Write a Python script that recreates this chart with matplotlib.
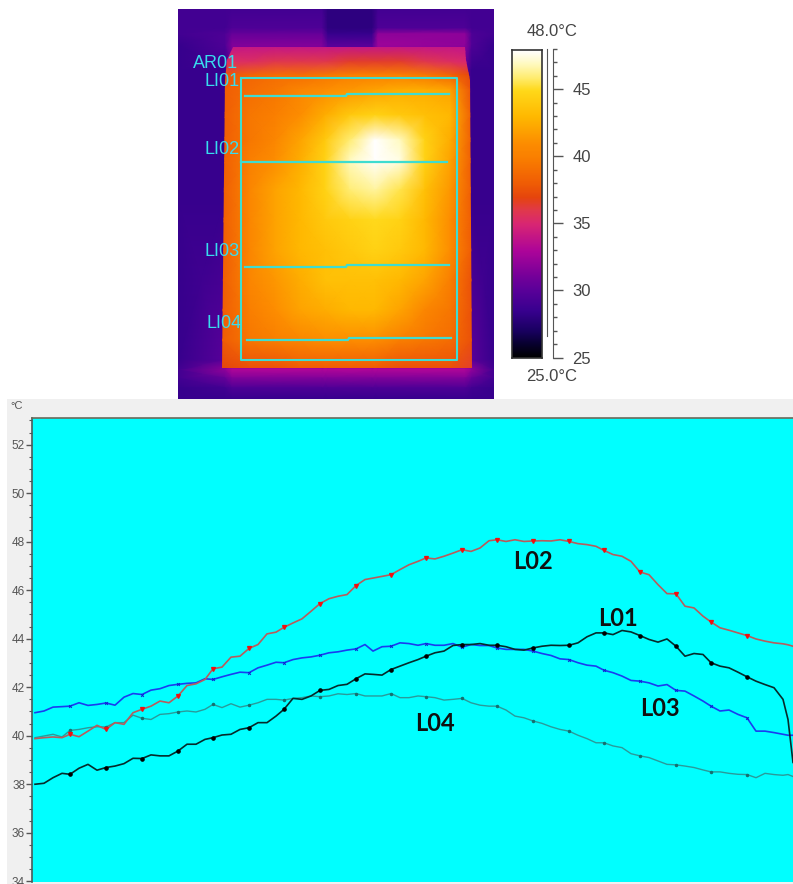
import matplotlib
matplotlib.use('Agg')
import matplotlib.pyplot as plt
import numpy as np
from matplotlib.colors import LinearSegmentedColormap, Normalize
from matplotlib.patches import Polygon, Rectangle

W, H = 793, 884

# perfil das linhas: posicao ao longo da linha e temperatura (graus C)
posicao = [35, 44, 53, 62, 70, 79, 88, 97, 106, 115, 124, 133, 142, 151, 160, 169, 178, 187, 196, 205,
           213, 222, 231, 240, 249, 258, 267, 276, 284, 293, 302, 311, 320, 329, 338, 347, 356, 365, 373, 382,
           391, 400, 409, 418, 426, 435, 444, 453, 462, 471, 480, 489, 497, 506, 515, 524, 533, 542, 551, 560,
           569, 578, 587, 596, 604, 613, 622, 631, 640, 649, 658, 667, 676, 685, 694, 703, 711, 720, 729, 738,
           747, 756, 765, 774, 783, 788, 793]
l01 = [38.0, 38.04, 38.27, 38.45, 38.41, 38.66, 38.82, 38.58, 38.69, 38.75, 38.85, 39.07, 39.06, 39.21, 39.17, 39.17, 39.37, 39.65, 39.65, 39.85,
       39.92, 40.03, 40.06, 40.26, 40.33, 40.54, 40.54, 40.81, 41.09, 41.54, 41.5, 41.64, 41.87, 41.91, 42.07, 42.12, 42.35, 42.55, 42.53, 42.5,
       42.73, 42.87, 43.01, 43.14, 43.28, 43.42, 43.49, 43.72, 43.76, 43.76, 43.8, 43.73, 43.73, 43.67, 43.56, 43.53, 43.62, 43.69, 43.73, 43.72,
       43.73, 43.83, 44.08, 44.24, 44.24, 44.17, 44.34, 44.28, 44.13, 43.97, 43.86, 43.99, 43.69, 43.28, 43.39, 43.35, 43.01, 42.87, 42.8, 42.62,
       42.43, 42.25, 42.11, 41.98, 41.5, 40.67, 38.9]
l02 = [39.88, 39.92, 39.95, 39.92, 40.06, 39.96, 40.19, 40.43, 40.26, 40.54, 40.47, 40.95, 41.09, 41.22, 41.43, 41.36, 41.64, 42.07, 42.14, 42.32,
       42.76, 42.83, 43.24, 43.28, 43.6, 43.76, 44.2, 44.27, 44.47, 44.65, 44.82, 45.13, 45.45, 45.65, 45.75, 45.82, 46.19, 46.44, 46.5, 46.57,
       46.64, 46.85, 47.05, 47.19, 47.33, 47.29, 47.4, 47.53, 47.67, 47.6, 47.74, 48.04, 48.08, 48.01, 48.08, 48.01, 48.03, 48.04, 48.03, 48.08,
       48.01, 47.92, 47.88, 47.81, 47.64, 47.47, 47.4, 47.19, 46.75, 46.64, 46.23, 45.86, 45.85, 45.34, 45.27, 44.93, 44.69, 44.45, 44.35, 44.24,
       44.13, 43.99, 43.9, 43.83, 43.79, 43.75, 43.69]
l03 = [40.95, 41.02, 41.18, 41.2, 41.22, 41.36, 41.25, 41.29, 41.35, 41.26, 41.59, 41.74, 41.7, 41.88, 41.94, 42.07, 42.12, 42.16, 42.18, 42.35,
       42.32, 42.43, 42.53, 42.62, 42.6, 42.8, 42.91, 43.03, 43.01, 43.14, 43.21, 43.25, 43.32, 43.42, 43.46, 43.53, 43.58, 43.76, 43.49, 43.67,
       43.69, 43.83, 43.8, 43.73, 43.8, 43.73, 43.73, 43.8, 43.65, 43.76, 43.72, 43.72, 43.62, 43.56, 43.56, 43.56, 43.49, 43.39, 43.31, 43.17,
       43.14, 43.01, 42.91, 42.87, 42.7, 42.6, 42.46, 42.28, 42.25, 42.18, 42.05, 42.11, 41.87, 41.84, 41.64, 41.43, 41.22, 41.02, 41.06, 40.88,
       40.74, 40.19, 40.19, 40.13, 40.06, 40.02, 40.02]
l04 = [39.92, 39.99, 40.06, 39.95, 40.22, 40.26, 40.33, 40.37, 40.36, 40.54, 40.54, 40.85, 40.72, 40.67, 40.88, 40.91, 40.98, 41.02, 40.98, 41.09,
       41.29, 41.16, 41.32, 41.18, 41.26, 41.36, 41.5, 41.5, 41.47, 41.54, 41.57, 41.64, 41.61, 41.64, 41.73, 41.7, 41.74, 41.64, 41.64, 41.64,
       41.74, 41.57, 41.57, 41.64, 41.61, 41.57, 41.47, 41.5, 41.54, 41.36, 41.26, 41.22, 41.22, 41.06, 40.81, 40.74, 40.61, 40.51, 40.37, 40.26,
       40.19, 40.02, 39.88, 39.71, 39.71, 39.58, 39.51, 39.26, 39.17, 39.1, 38.96, 38.82, 38.8, 38.75, 38.69, 38.59, 38.51, 38.51, 38.45, 38.41,
       38.4, 38.27, 38.45, 38.4, 38.37, 38.4, 38.32]

# termografia: temperaturas
fundo_x = [178, 225, 232, 322, 328, 372, 378, 465, 472, 494]
fundo_y = [9, 28, 34, 45, 70, 200, 360, 370, 378, 388, 399]
fundo_t = [[29, 29, 29, 29, 28, 28, 29, 29, 29, 29],
           [29, 29, 29.5, 29.5, 28, 28, 29.5, 29.5, 29, 29],
           [29, 29.5, 30.5, 30.5, 28.5, 28.5, 32, 32, 29.5, 29],
           [28.5, 29.5, 31.5, 31.5, 30, 30, 32.5, 32, 29.5, 28.5],
           [28.5, 28.5, 30, 30, 30, 30, 30, 30, 28.5, 28.5],
           [28.5, 28.5, 30, 30, 30, 30, 30, 30, 28.5, 28.5],
           [28.5, 30, 30, 30, 30, 30, 30, 30, 30, 28.5],
           [29, 32, 33, 33, 33, 33, 33, 33, 32, 29],
           [29, 30.5, 31.5, 31.5, 31.5, 31.5, 31.5, 31.5, 30.5, 29],
           [28.5, 29, 29.5, 29.5, 29.5, 29.5, 29.5, 29.5, 29, 28.5],
           [28.5, 28.5, 28.5, 28.5, 28.5, 28.5, 28.5, 28.5, 28.5, 28.5]]
placa_x = [222, 250, 275, 300, 325, 350, 375, 400, 425, 450, 472]
placa_y = [47, 62, 75, 90, 115, 140, 160, 190, 220, 250, 280, 310, 340, 368]
placa_t = [[34, 34, 34, 34, 34, 34, 34, 34, 34, 34, 34],
           [35.5, 35.5, 36, 36, 36, 36.5, 36.5, 36.5, 36, 35.5, 35],
           [37.5, 38.5, 39, 39, 39.5, 40, 40, 40, 39.5, 38.5, 37],
           [38, 39, 39.5, 40.5, 41, 41.5, 42, 42.5, 42.5, 42, 37.5],
           [38, 39.5, 40, 41, 42.5, 44, 44.5, 44, 43.5, 43, 38],
           [38, 39.5, 40.5, 42, 44, 46, 48, 47, 44.5, 42.5, 38],
           [38, 40, 41, 42.5, 44.5, 47, 48.5, 47.5, 44.5, 42, 38],
           [38, 40.5, 42, 43, 44.5, 46, 46.5, 45.5, 43.5, 41.5, 38],
           [38, 40.5, 42, 43, 44, 44.5, 45, 44.5, 43, 41, 38],
           [38, 40.5, 42, 43, 43.5, 44, 44.5, 44, 43, 41, 38],
           [38, 40.5, 41.5, 42.5, 43.5, 43.5, 43.5, 43, 42, 40, 37.5],
           [38, 40, 41, 42, 42.5, 43, 43, 42, 40.5, 39.5, 37.5],
           [38, 39.5, 40, 40.5, 41, 41, 41, 40, 39.5, 39, 37.5],
           [37, 37.5, 37.5, 38, 38, 38, 38, 37.5, 37.5, 37.5, 36.5]]

# paleta da camera
paleta_t = [25, 26, 27, 28.5, 30, 31, 33, 35, 36, 37, 38, 40, 41, 43, 45, 46, 47, 48]
paleta_cor = [(0, 0, 0), (.03, 0, .18), (.1, 0, .38), (.22, 0, .56), (.35, 0, .6), (.45, 0, .6), (.68, .02, .6),
              (.85, .15, .45), (.88, .22, .3), (.9, .27, .05), (.94, .36, .02), (.98, .5, 0), (.99, .55, 0),
              (1, .72, 0), (1, .85, .1), (1, .93, .45), (1, .98, .75), (1, 1, 1)]

escala_ticks = [25, 30, 35, 40, 45]
eixo_ticks = [34, 36, 38, 40, 42, 44, 46, 48, 50, 52]
marcas = list(range(4, 84, 4))

CIANO = '#3fdcd0'
TEXTO_CIANO = '#38dcee'


def eixo_px(x0, y0, x1, y1):
    return fig.add_axes([x0 / W, 1 - y1 / H, (x1 - x0) / W, (y1 - y0) / H])


fig = plt.figure(figsize=(W / 100, H / 100), dpi=100, facecolor='white')
plt.rcParams['font.family'] = ['Liberation Sans', 'DejaVu Sans']

# faixa cinza atras do grafico
fig.patches.append(Rectangle((7 / W, 0), 1 - 7 / W, 1 - 399 / H, transform=fig.transFigure,
                             facecolor='#f0f0f0', edgecolor='none', zorder=-5))

cmap = LinearSegmentedColormap.from_list('camera', [((t - 25) / 23, c) for t, c in zip(paleta_t, paleta_cor)])
norm = Normalize(25, 48)

# termografia
ax_t = eixo_px(178, 9, 494, 399)
ax_t.pcolormesh(fundo_x, fundo_y, np.array(fundo_t), cmap=cmap, norm=norm, shading='gouraud')
malha = ax_t.pcolormesh(placa_x, placa_y, np.array(placa_t), cmap=cmap, norm=norm, shading='gouraud')
contorno = Polygon([(233, 47), (465, 47), (466, 60), (470, 80), (472, 368), (222, 368), (225, 80), (227, 60)],
                   transform=ax_t.transData)
malha.set_clip_path(contorno)
ax_t.set_xlim(178, 494)
ax_t.set_ylim(399, 9)
ax_t.axis('off')

ax_t.plot([241, 457, 457, 241, 241], [78, 78, 360, 360, 78], color=CIANO, lw=1.5)
for xs, ys in [([245, 346, 347, 449], [96, 96, 94, 94]),
               ([241, 447], [162.5, 162.5]),
               ([245, 346, 347, 449], [267, 267, 265, 265]),
               ([247, 348, 349, 451], [340, 340, 338, 338])]:
    ax_t.plot(xs, ys, color=CIANO, lw=1.6)
for nome, x, y in [('AR01', 193, 64), ('LI01', 205, 81), ('LI02', 205, 149), ('LI03', 205, 251), ('LI04', 207, 324)]:
    ax_t.text(x, y, nome, color=TEXTO_CIANO, fontsize=13, ha='left', va='center')

# barra de cores
ax_c = eixo_px(512, 50, 542, 358)
ax_c.imshow(np.linspace(48, 25, 256).reshape(-1, 1), cmap=cmap, norm=norm, aspect='auto', extent=[0, 1, 25, 48])
ax_c.set_xticks([])
ax_c.set_yticks([])
for s in ax_c.spines.values():
    s.set_color('#333333')
    s.set_linewidth(1.2)

ax_e = eixo_px(547, 49, 553, 357.5)
ax_e.set_ylim(25, 48)
ax_e.set_xticks([])
ax_e.patch.set_visible(False)
for lado in ['top', 'bottom']:
    ax_e.spines[lado].set_visible(False)
ax_e.spines['left'].set_bounds(26.6, 48)
ax_e.spines['left'].set_color('#555555')
ax_e.spines['right'].set_color('#555555')
ax_e.yaxis.tick_right()
ax_e.set_yticks(escala_ticks)
ax_e.set_yticks(np.arange(25, 49), minor=True)
ax_e.tick_params(axis='y', which='major', length=7, width=1, color='#555555', labelsize=12, labelcolor='#444444', pad=7)
ax_e.tick_params(axis='y', which='minor', length=3, width=1, color='#555555')
fig.text(552 / W, 1 - 32 / H, '48.0°C', fontsize=12, color='#444444', ha='center', va='center')
fig.text(552 / W, 1 - 376 / H, '25.0°C', fontsize=12, color='#444444', ha='center', va='center')

# perfil
ax = eixo_px(32, 418, 793, 882)
ax.set_facecolor('#00ffff')
ax.plot(posicao, l04, color='#2a9a9a', lw=1, marker='o', ms=1.5, mfc='#157070', mec='#157070', markevery=marcas)
ax.plot(posicao, l03, color='#1a3cf0', lw=1.2, marker='x', ms=2, mec='#1020d0', mew=0.7, markevery=marcas)
ax.plot(posicao, l01, color='#062b2b', lw=1.2, marker='o', ms=2.3, mfc='black', mec='black', markevery=marcas)
ax.plot(posicao, l02, color='#b85c5c', lw=1.2, marker='v', ms=2.8, mfc='#f01010', mec='#f01010', markevery=marcas)
ax.set_xlim(32, 793)
ax.set_ylim(33.97, 53.1)
ax.set_xticks([])
ax.set_yticks(eixo_ticks)
ax.set_yticks(np.arange(34, 53.5, 0.5), minor=True)
ax.tick_params(axis='y', which='major', length=4, width=1, color='#555555', labelsize=8.5, labelcolor='#555555', pad=1)
ax.tick_params(axis='y', which='minor', length=2, width=0.8, color='#555555')
ax.spines['right'].set_visible(False)
ax.spines['bottom'].set_visible(False)
ax.spines['left'].set_color('#4a5a5a')
ax.spines['top'].set_color('#6a6a5a')
ax.spines['left'].set_linewidth(1.2)
ax.spines['top'].set_linewidth(1.2)
fig.text(17 / W, 1 - 406 / H, '°C', fontsize=8, color='#555555', ha='center', va='center')

for nome, x, y in [('L02', 533, 47.17), ('L01', 618, 44.83), ('L03', 660, 41.13), ('L04', 435, 40.51)]:
    ax.text(x, y, nome, fontsize=17, fontweight='bold', family='Lato', color='#101010', ha='center', va='center')

fig.savefig('out.png', dpi=100)
